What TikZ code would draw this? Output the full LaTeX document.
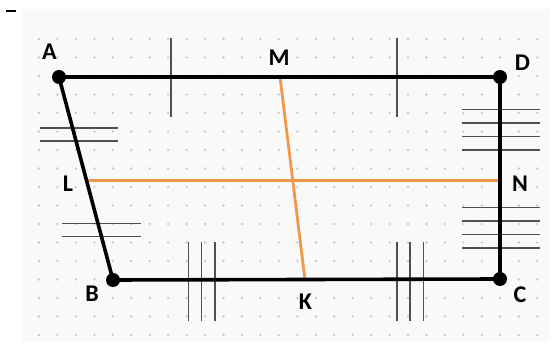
\documentclass[tikz,border=0pt]{standalone}
\usepackage{fontspec}
\setmainfont{Carlito}
\definecolor{segorange}{RGB}{240,152,72}
\definecolor{tickgray}{RGB}{80,80,80}
\definecolor{dotgray}{RGB}{200,200,200}
\definecolor{panelgray}{RGB}{249,249,249}
\tikzset{
  side/.style={line width=3.6pt, black, line cap=round},
  midseg/.style={line width=2.8pt, segorange},
  tickmark/.style={line width=1.3pt, tickgray},
  vertex/.style={circle, fill=black, inner sep=0pt, minimum size=14pt},
  lbl/.style={font=\bfseries\fontsize{24}{24}\selectfont, inner sep=0pt}
}
\begin{document}
\begin{tikzpicture}[x=1pt,y=-1pt]
\useasboundingbox (0,0) rectangle (560,347);
\fill[white] (0,0) rectangle (560,347);
\fill[panelgray] (22,9) rectangle (549,342);
\draw[line width=2.4pt] (6,11) -- (16,11);
% dot grid
\foreach \i in {0,...,27}{
  \foreach \j in {0,...,16}{
    \fill[dotgray] ({39+\i*18.45},{39+\j*18.5}) circle (1.3);
  }
}
% vertices and midpoints
\coordinate (A) at (59,77);
\coordinate (D) at (500,77);
\coordinate (B) at (113,280);
\coordinate (C) at (500,279);
\coordinate (M) at (280,77);
\coordinate (K) at (305,280);
\coordinate (L) at (86,180.5);
\coordinate (N) at (500,180.5);
% tick marks
\draw[tickmark] (171,38) -- (171,117);
\draw[tickmark] (397,38) -- (397,117);
\draw[tickmark] (40,128) -- (118,128);
\draw[tickmark] (40,141) -- (118,141);
\draw[tickmark] (62,223.5) -- (141,223.5);
\draw[tickmark] (62,236.5) -- (141,236.5);
\foreach \y in {109.5,123,136.5,150}{\draw[tickmark] (462,\y) -- (540,\y);}
\foreach \y in {207.5,221,234.5,248}{\draw[tickmark] (462,\y) -- (540,\y);}
\foreach \x in {188.5,201.5,215}{\draw[tickmark] (\x,242) -- (\x,321);}
\foreach \x in {397,410,423.5}{\draw[tickmark] (\x,242) -- (\x,321);}
% midline segments
\draw[midseg] (M) -- (K);
\draw[midseg] (L) -- (N);
% sides
\draw[side] (A) -- (D) -- (C) -- (B) -- cycle;
\node[vertex] (vA) at (A) {};
\node[vertex] (vD) at (D) {};
\node[vertex] (vB) at (B) {};
\node[vertex] (vC) at (C) {};
% labels
\node[lbl] (tA) at (49.5,51.5) {A};
\node[lbl] (tM) at (279,57.5) {M};
\node[lbl] (tD) at (522.5,62.5) {D};
\node[lbl] (tL) at (68,183.5) {L};
\node[lbl] (tN) at (520,183.5) {N};
\node[lbl] (tB) at (92,294) {B};
\node[lbl] (tK) at (305.5,301.5) {K};
\node[lbl] (tC) at (520,295) {C};
\end{tikzpicture}
\end{document}
